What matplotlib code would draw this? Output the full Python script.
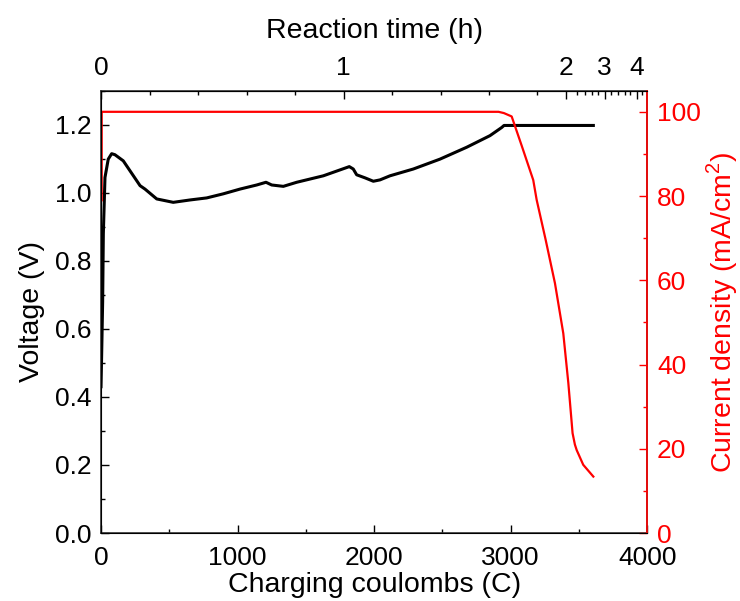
import numpy as np
import matplotlib
matplotlib.use("Agg")
import matplotlib.pyplot as plt
from matplotlib.ticker import MultipleLocator, FixedLocator

plt.rcParams['font.family'] = ['Liberation Sans', 'DejaVu Sans']
plt.rcParams['mathtext.fontset'] = 'custom'
plt.rcParams['mathtext.rm'] = 'Liberation Sans'

# voltage curve (charging coulombs C, voltage V)
q_volt = [0, 5, 12, 17, 29, 53, 78, 102, 163, 286, 322, 408, 529, 652, 774, 895,
          1018, 1140, 1208, 1250, 1335, 1433, 1628, 1818, 1847, 1872, 1933, 1994,
          2043, 2116, 2287, 2482, 2678, 2848, 2934, 2951, 3605]
voltage = [0.43, 0.53, 0.68, 0.88, 1.045, 1.099, 1.115, 1.112, 1.094, 1.021, 1.011,
           0.982, 0.972, 0.979, 0.985, 0.997, 1.011, 1.023, 1.031, 1.023, 1.019,
           1.031, 1.050, 1.077, 1.070, 1.053, 1.044, 1.034, 1.038, 1.050, 1.070,
           1.099, 1.134, 1.168, 1.192, 1.198, 1.198]

# current density curve (charging coulombs C, mA/cm2)
q_curr = [5, 5, 300, 1000, 2000, 2911, 2950, 3007, 3080, 3165, 3190, 3256, 3324,
          3385, 3422, 3453, 3470, 3483, 3531, 3605]
current = [79, 100, 100, 100, 100, 100, 99.7, 98.9, 92, 83.8, 79.1, 69.6, 59.3,
           47.4, 35.6, 23.7, 21, 19.7, 16.2, 13.4]

# reaction time (h) vs charging coulombs
hours_map = [0, 1.6, 1.8, 2.0, 2.2, 2.4, 2.6, 2.8, 3.0, 3.2, 3.4, 3.6, 3.8, 4.0, 4.2, 4.4]
coul_map = [0, 2843, 3194, 3401, 3487, 3539, 3593, 3641, 3685, 3734, 3783, 3832,
            3873, 3922, 3959, 3998]
hour_ticks = [0, 1, 2, 3, 4]

fig = plt.figure(figsize=(7.4, 6.01), dpi=100)
ax = fig.add_axes([0.1365, 0.1131, 0.7382, 0.7359])

tick_fs = 19
label_fs = 20.5

ax.plot(q_volt, voltage, color='black', lw=2.2, zorder=3)
ax.set_xlim(0, 4000)
ax.set_ylim(0, 1.3)
ax.xaxis.set_major_locator(MultipleLocator(1000))
ax.xaxis.set_minor_locator(MultipleLocator(500))
ax.yaxis.set_minor_locator(MultipleLocator(0.1))
ax.set_yticks([0, 0.2, 0.4, 0.6, 0.8, 1.0, 1.2])
ax.set_yticklabels(['0.0', '0.2', '0.4', '0.6', '0.8', '1.0', '1.2'])
ax.tick_params(which='both', direction='in', labelsize=tick_fs, width=1, pad=7)
ax.tick_params(axis='x', pad=9)
ax.tick_params(which='major', length=6)
ax.tick_params(which='minor', length=3)
ax.set_xlabel('Charging coulombs (C)', fontsize=label_fs, labelpad=2)
ax.set_ylabel('Voltage (V)', fontsize=label_fs, labelpad=7)
for s in ax.spines.values():
    s.set_linewidth(1.2)
    s.set_color('#333333')

ax2 = ax.twinx()
ax2.plot(q_curr, current, color='red', lw=1.6, zorder=2)
ax2.set_ylim(0, 105)
ax2.yaxis.set_major_locator(MultipleLocator(20))
ax2.yaxis.set_minor_locator(MultipleLocator(10))
ax2.tick_params(which='both', direction='in', colors='red', labelsize=tick_fs,
                width=1, pad=7)
ax2.tick_params(which='major', length=6)
ax2.tick_params(which='minor', length=3)
ax2.spines['right'].set_color('red')
ax2.spines['right'].set_linewidth(1.2)
ax2.set_ylabel('Current density (mA/cm$^2$)', color='red', fontsize=label_fs,
               labelpad=2)


def c2h(x):
    return np.interp(x, coul_map, hours_map)


def h2c(h):
    return np.interp(h, hours_map, coul_map)


top = ax.secondary_xaxis('top', functions=(c2h, h2c))
top.xaxis.set_major_locator(FixedLocator(hour_ticks))
top.xaxis.set_minor_locator(FixedLocator(np.arange(0.2, 4.3, 0.2)))
top.tick_params(which='both', direction='in', labelsize=tick_fs, width=1, pad=8)
top.tick_params(which='major', length=6)
top.tick_params(which='minor', length=3)
top.set_xlabel('Reaction time (h)', fontsize=label_fs, labelpad=13)
top.spines['top'].set_color('#333333')

fig.savefig('out.png', dpi=100)
